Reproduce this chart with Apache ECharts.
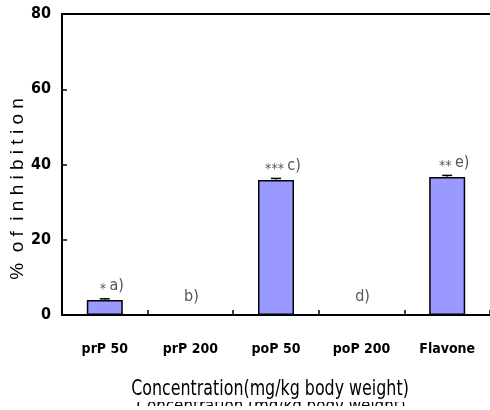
<!DOCTYPE html>
<html><head><meta charset="utf-8">
<script src="https://cdn.jsdelivr.net/npm/echarts@6/dist/echarts.min.js"></script>
<style>html,body{margin:0;padding:0;background:#fff}#c{width:490px;height:410px}</style>
</head><body><div id="c"></div>
<script>
var categories = ['prP 50', 'prP 200', 'poP 50', 'poP 200', 'Flavone'];
var values = [4.0, 0, 35.9, 0, 36.7];
var errors = [0.3, 0, 0.4, 0, 0.4];
var stars = ['*', '', '***', '', '**'];
var letters = ['a)', 'b)', 'c)', 'd)', 'e)'];
var yTicks = [0, 20, 40, 60, 80];

var NARROW = '"DejaVu Sans Condensed", "Liberation Sans Narrow", sans-serif';
var chart = echarts.init(document.getElementById('c'));

var barData = values.map(function (v, i) {
  return {
    value: v,
    label: {
      show: true,
      position: 'top',
      distance: v > 0 ? 6 : 9,
      offset: stars[i] ? [7, 0] : [1, 0],
      formatter: (stars[i] ? '{s|' + stars[i] + '} ' : '') + '{l|' + letters[i] + '}'
    }
  };
});

chart.setOption({
  animation: false,
  grid: { left: 62, right: 0, top: 14, bottom: 95, containLabel: false, outerBoundsMode: 'none' },
  xAxis: [{
    type: 'category',
    data: categories,
    axisLine: { lineStyle: { color: '#000', width: 2 } },
    axisTick: { show: true, inside: true, length: 5, lineStyle: { color: '#000', width: 1.5 } },
    axisLabel: { color: '#000', fontFamily: NARROW, fontSize: 14, fontWeight: 'bold', margin: 27 }
  }, {
    type: 'category',
    position: 'top',
    data: categories,
    axisLine: { show: true, lineStyle: { color: '#000', width: 2 } },
    axisTick: { show: false },
    axisLabel: { show: false }
  }],
  yAxis: {
    type: 'value',
    min: 0, max: 80, interval: 20,
    axisLine: { show: true, lineStyle: { color: '#000', width: 2 } },
    axisTick: { show: true, inside: true, length: 5, lineStyle: { color: '#000', width: 1.5 } },
    splitLine: { show: false },
    axisLabel: {
      color: '#000', fontFamily: NARROW, fontSize: 16, fontWeight: 'bold', margin: 11,
      formatter: function (v) { return yTicks.indexOf(v) >= 0 ? String(v) : ''; }
    }
  },
  series: [{
    type: 'bar',
    data: barData,
    barWidth: 36,
    itemStyle: { color: '#9999ff', borderColor: '#000', borderWidth: 1.5 },
    label: {
      color: '#555',
      rich: {
        s: { fontSize: 14, lineHeight: 14, color: '#555', fontFamily: '"DejaVu Sans Condensed", sans-serif', padding: [6, 0, 0, 0] },
        l: { fontSize: 16, color: '#555', fontFamily: NARROW }
      }
    }
  }, {
    type: 'custom',
    z: 5,
    data: values.map(function (v, i) { return [i, v, errors[i]]; }),
    renderItem: function (params, api) {
      var e = api.value(2);
      if (!e) return null;
      var x = api.coord([api.value(0), 0])[0];
      var top = api.coord([api.value(0), api.value(1) + e])[1];
      var bot = api.coord([api.value(0), api.value(1)])[1];
      return {
        type: 'group',
        children: [
          { type: 'line', shape: { x1: x, y1: top, x2: x, y2: bot }, style: { stroke: '#000', lineWidth: 1 } },
          { type: 'line', shape: { x1: x - 5, y1: top, x2: x + 5, y2: top }, style: { stroke: '#000', lineWidth: 1.5 } }
        ]
      };
    }
  }],
  graphic: [
    { type: 'text', z: 3, x: 18, y: 189, rotation: Math.PI / 2,
      style: { text: '%  o f  i n h i b i t i o n', font: '19px "Liberation Sans", sans-serif', fill: '#000',
               align: 'center', verticalAlign: 'middle' } },
    { type: 'text', z: 1, x: 271, y: 407, scaleX: 0.84,
      style: { text: 'Concentration (mg/kg body weight)', font: '20px ' + NARROW, fill: '#000',
               align: 'center', verticalAlign: 'middle' } },
    { type: 'rect', z: 2, shape: { x: 100, y: 380, width: 360, height: 22 }, style: { fill: '#fff' } },
    { type: 'rect', z: 2, shape: { x: 100, y: 406, width: 360, height: 10 }, style: { fill: '#fff' } },
    { type: 'text', z: 3, x: 270, y: 390, scaleX: 0.84,
      style: { text: 'Concentration(mg/kg body weight)', font: '21px ' + NARROW, fill: '#000',
               align: 'center', verticalAlign: 'middle' } }
  ]
});
</script></body></html>
